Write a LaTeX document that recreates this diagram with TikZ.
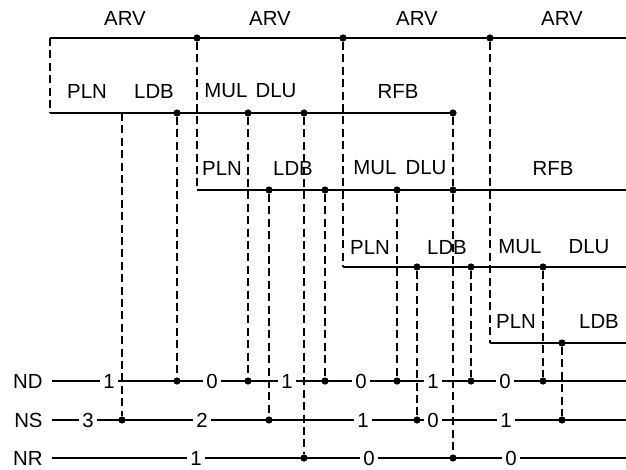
\documentclass[tikz,border=0pt]{standalone}
\usepackage{fontspec}
\setmainfont{Liberation Sans}
\usetikzlibrary{positioning}

\begin{document}
\begin{tikzpicture}[
  x=0.5pt, y=-0.5pt,
  every node/.style={font=\fontsize{10.2}{12}\selectfont},
  lbl/.style ={inner sep=0pt},
  num/.style ={fill=white, inner sep=1.6pt},
  junc/.style={circle, fill=black, inner sep=0pt, minimum size=3.6pt},
  bus/.style ={line width=1.2pt},
  link/.style={line width=0.6pt, dash pattern=on 4pt off 2.2pt}
]
\useasboundingbox (0,0) rectangle (626,470);

%% ---- End points of the levels -------------------------------------
\coordinate (A0)  at (50,38);   \coordinate (A9)  at (626,38);
\coordinate (L1w) at (50,113);  \coordinate (L1e) at (453,113);
\coordinate (L1x) at (122,113);
\coordinate (L2w) at (197,190); \coordinate (L2e) at (626,190);
\coordinate (L3w) at (343,267); \coordinate (L3e) at (626,267);
\coordinate (L4w) at (490,343); \coordinate (L4e) at (626,343);
\coordinate (ND0) at (52,381);  \coordinate (ND9) at (626,381);
\coordinate (NS0) at (52,420);  \coordinate (NS9) at (626,420);
\coordinate (NR0) at (52,458);  \coordinate (NR9) at (626,458);

%% ---- Solid lines --------------------------------------------------
\draw[bus] (A0) -- (A9);
\draw[bus] (L1w) -- (L1e);
\draw[bus] (L2w) -- (L2e);
\draw[bus] (L3w) -- (L3e);
\draw[bus] (L4w) -- (L4e);
\draw[bus] (ND0) -- (ND9);
\draw[bus] (NS0) -- (NS9);
\draw[bus] (NR0) -- (NR9);

%% ---- Row names ----------------------------------------------------
\node[lbl, left=4.5pt of ND0] (tND) {ND};
\node[lbl, left=4.5pt of NS0] (tNS) {NS};
\node[lbl, left=4.5pt of NR0] (tNR) {NR};

%% ---- Counts on the rows ------------------------------------------
\node[num] (nd1) at (109,381) {1};
\node[num] (nd2) at (212,381) {0};
\node[num] (nd3) at (287,381) {1};
\node[num] (nd4) at (361,381) {0};
\node[num] (nd5) at (433,381) {1};
\node[num] (nd6) at (505,381) {0};
\node[num] (ns1) at (88,420)  {3};
\node[num] (ns2) at (202,420) {2};
\node[num] (ns3) at (363,420) {1};
\node[num] (ns4) at (433,420) {0};
\node[num] (ns5) at (506,420) {1};
\node[num] (nr1) at (196,458) {1};
\node[num] (nr2) at (369,458) {0};
\node[num] (nr3) at (511,458) {0};

%% ---- Level labels -------------------------------------------------
\node[lbl] (arv1) at (125,18) {ARV};
\node[lbl] (arv2) at (270,18) {ARV};
\node[lbl] (arv3) at (417,18) {ARV};
\node[lbl] (arv4) at (562,18) {ARV};

\node[lbl] (pln1) at (87,91)  {PLN};
\node[lbl] (ldb1) at (154,91) {LDB};
\node[lbl] (mul1) at (226,91) {MUL};
\node[lbl] (dlu1) at (276,91) {DLU};
\node[lbl] (rfb1) at (398,91) {RFB};

\node[lbl] (pln2) at (222,168) {PLN};
\node[lbl] (ldb2) at (293,168) {LDB};
\node[lbl] (mul2) at (375,168) {MUL};
\node[lbl] (dlu2) at (426,168) {DLU};
\node[lbl] (rfb2) at (553,168) {RFB};

\node[lbl] (pln3) at (370,247) {PLN};
\node[lbl] (ldb3) at (447,247) {LDB};
\node[lbl] (mul3) at (520,247) {MUL};
\node[lbl] (dlu3) at (589,247) {DLU};

\node[lbl] (pln4) at (516,321) {PLN};
\node[lbl] (ldb4) at (599,321) {LDB};

%% ---- Junctions ----------------------------------------------------
\node[junc] (a1) at (197,38) {};
\node[junc] (a2) at (343,38) {};
\node[junc] (a3) at (490,38) {};

\node[junc] (p1a) at (177,113) {};
\node[junc] (p1b) at (248,113) {};
\node[junc] (p1c) at (304,113) {};
\node[junc] (p1d) at (453,113) {};

\node[junc] (p2a) at (269,190) {};
\node[junc] (p2b) at (325,190) {};
\node[junc] (p2c) at (397,190) {};
\node[junc] (p2d) at (453,190) {};

\node[junc] (p3a) at (417,267) {};
\node[junc] (p3b) at (471,267) {};
\node[junc] (p3c) at (543,267) {};

\node[junc] (p4a) at (562,343) {};

\node[junc] (d1) at (177,381) {};
\node[junc] (d2) at (248,381) {};
\node[junc] (d3) at (325,381) {};
\node[junc] (d4) at (397,381) {};
\node[junc] (d5) at (471,381) {};
\node[junc] (d6) at (543,381) {};

\node[junc] (s1) at (122,420) {};
\node[junc] (s2) at (269,420) {};
\node[junc] (s3) at (417,420) {};
\node[junc] (s4) at (562,420) {};

\node[junc] (r1) at (304,458) {};
\node[junc] (r2) at (453,458) {};

%% ---- Dashed links -------------------------------------------------
\draw[link] (A0) -- (L1w);
\draw[link] (a1) -- (L2w);
\draw[link] (a2) -- (L3w);
\draw[link] (a3) -- (L4w);

\draw[link] (L1x) -- (s1);
\draw[link] (p1a) -- (d1);
\draw[link] (p1b) -- (d2);
\draw[link] (p1c) -- (r1);
\draw[link] (p1d) -- (p2d);
\draw[link] (p2d) -- (r2);

\draw[link] (p2a) -- (s2);
\draw[link] (p2b) -- (d3);
\draw[link] (p2c) -- (d4);

\draw[link] (p3a) -- (s3);
\draw[link] (p3b) -- (d5);
\draw[link] (p3c) -- (d6);

\draw[link] (p4a) -- (s4);

\end{tikzpicture}
\end{document}
